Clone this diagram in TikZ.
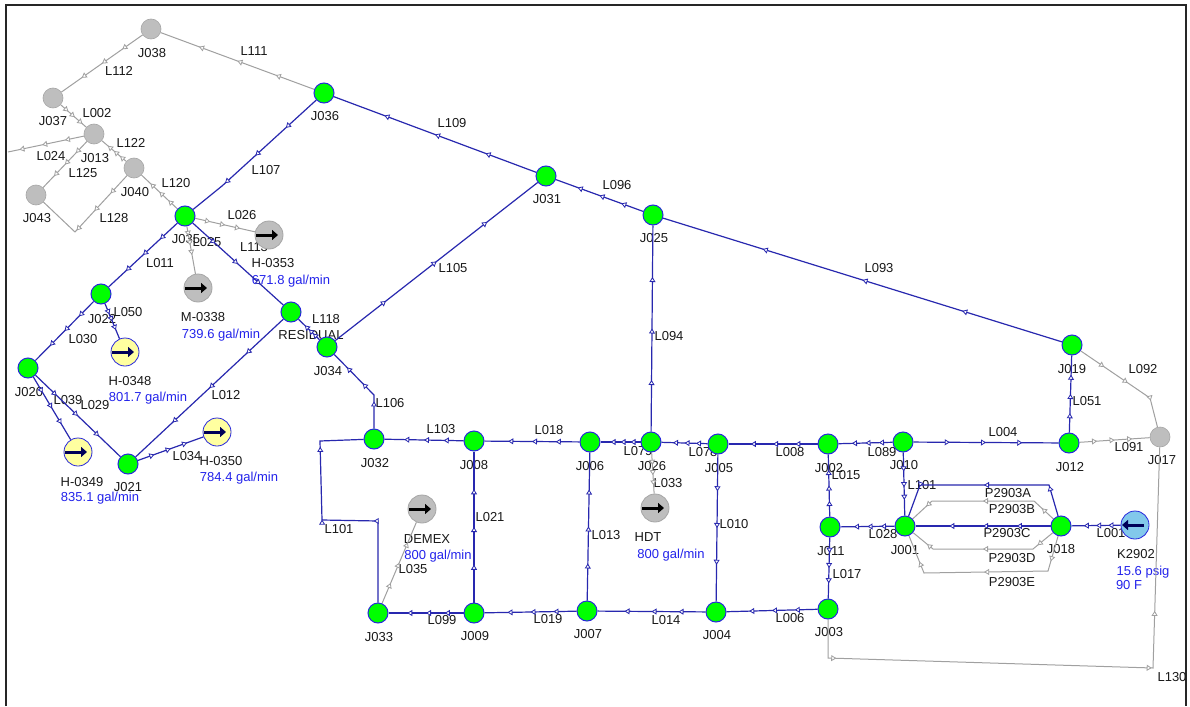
\documentclass[tikz,border=0pt]{standalone}
\usepackage{fontspec}
\setmainfont{Liberation Sans}
\usetikzlibrary{arrows.meta,backgrounds,decorations.markings}
\definecolor{pipeblue}{RGB}{40,40,175}
\definecolor{pipegray}{RGB}{160,160,160}
\definecolor{valblue}{RGB}{35,35,235}
\definecolor{rimblue}{RGB}{40,40,220}
\definecolor{pumpfill}{RGB}{190,190,190}
\definecolor{sinkfill}{RGB}{255,255,160}
\definecolor{srcfill}{RGB}{130,200,235}

\begin{document}
\begin{tikzpicture}[
    x=1pt, y=-1pt,
    lbl/.style={font=\fontsize{13}{13}\selectfont, inner sep=0pt, text height=9.3pt, text depth=0pt, text=black!90},
    val/.style={lbl, text=valblue},
    junc/.style={circle, draw=rimblue, fill=green, line width=1pt, minimum size=20pt, inner sep=0pt},
    idle/.style={circle, draw=gray!70, fill=pumpfill, line width=.6pt, minimum size=20pt, inner sep=0pt},
    flowr/.style={circle, minimum size=28pt, inner sep=0pt, line width=.8pt, path picture={
        \draw[line width=3pt, -{Triangle[length=6pt,width=10pt]}, #1]
          ([xshift=-13pt]path picture bounding box.center) -- ([xshift=9pt]path picture bounding box.center);}},
    sinkg/.style={flowr=black, draw=gray!70, fill=pumpfill},
    sinky/.style={flowr={blue!35!black}, draw=rimblue, fill=sinkfill},
    srcb/.style={circle, minimum size=28pt, inner sep=0pt, line width=.8pt, draw=rimblue, fill=srcfill, path picture={
        \draw[line width=3pt, -{Triangle[length=6pt,width=10pt]}, blue!35!black]
          ([xshift=9pt]path picture bounding box.center) -- ([xshift=-13pt]path picture bounding box.center);}},
    tri marks/.style n args={3}{postaction={decorate, decoration={markings,
        mark=at position #1 with {\arrow{Triangle[open,fill=white,length=5pt,width=6pt,line width=.8pt]}},
        mark=at position #2 with {\arrow{Triangle[open,fill=white,length=5pt,width=6pt,line width=.8pt]}},
        mark=at position #3 with {\arrow{Triangle[open,fill=white,length=5pt,width=6pt,line width=.8pt]}}}}},
    tm/.style={tri marks={.25}{.5}{.75}},
    bluepipe/.style={draw=pipeblue, line width=1.2pt},
    graypipe/.style={draw=pipegray, line width=1pt},
  ]
  \useasboundingbox (0,0) rectangle (1190,706);

  % junctions
  \node[idle] (J038) at (151,29) {};
  \node[idle] (J037) at (53,98) {};
  \node[idle] (J013) at (94,134) {};
  \node[idle] (J040) at (134,168) {};
  \node[idle] (J043) at (36,195) {};
  \node[idle] (J017) at (1160,437) {};
  \node[junc] (J036) at (324,93) {};
  \node[junc] (J035) at (185,216) {};
  \node[junc] (J031) at (546,176) {};
  \node[junc] (J025) at (653,215) {};
  \node[junc] (J022) at (101,294) {};
  \node[junc] (RESIDUAL) at (291,312) {};
  \node[junc] (J034) at (327,347) {};
  \node[junc] (J019) at (1072,345) {};
  \node[junc] (J020) at (28,368) {};
  \node[junc] (J021) at (128,464) {};
  \node[junc] (J032) at (374,439) {};
  \node[junc] (J008) at (474,441) {};
  \node[junc] (J006) at (590,442) {};
  \node[junc] (J026) at (651,442) {};
  \node[junc] (J005) at (718,444) {};
  \node[junc] (J002) at (828,444) {};
  \node[junc] (J010) at (903,442) {};
  \node[junc] (J012) at (1069,443) {};
  \node[junc] (J011) at (830,527) {};
  \node[junc] (J001) at (905,526) {};
  \node[junc] (J018) at (1061,526) {};
  \node[junc] (J033) at (378,613) {};
  \node[junc] (J009) at (474,613) {};
  \node[junc] (J007) at (587,611) {};
  \node[junc] (J004) at (716,612) {};
  \node[junc] (J003) at (828,609) {};

  % flow boundaries
  \node[sinkg] (H0353) at (269,235) {};
  \node[sinkg] (M0338) at (198,288) {};
  \node[sinkg] (DEMEX) at (422,509) {};
  \node[sinkg] (HDT) at (655,508) {};
  \node[sinky] (H0348) at (125,352) {};
  \node[sinky] (H0349) at (78,452) {};
  \node[sinky] (H0350) at (217,432) {};
  \node[srcb] (K2902) at (1135,525) {};

  % bends and the open end
  \coordinate (leftend) at (8,152);
  \coordinate (b128) at (75,232);
  \coordinate (b107) at (222,186);
  \coordinate (b106) at (374,395);
  \coordinate (b101a) at (378,521);
  \coordinate (b101b) at (322,520);
  \coordinate (b101c) at (320,441);
  \coordinate (b130a) at (828,658);
  \coordinate (b130b) at (1153,668);
  \coordinate (b092) at (1150,398);
  \coordinate (bAa) at (1049,485);
  \coordinate (bAb) at (920,485);
  \coordinate (bBa) at (1034,501);
  \coordinate (bBb) at (932,501);
  \coordinate (bDa) at (1033,549);
  \coordinate (bDb) at (933,549);
  \coordinate (bEa) at (1048,571);
  \coordinate (bEb) at (924,573);

  \begin{scope}[on background layer]
    \fill[white] (0,0) rectangle (1190,706);
    \draw[black!85, line width=2pt] (6,706) -- (6,5) -- (1186,5) -- (1186,706);

    % junction texts
    \node[lbl] (tJ038) at (152,53) {J038};
    \node[lbl] (tJ037) at (53,121) {J037};
    \node[lbl] (tJ013) at (95,158) {J013};
    \node[lbl] (tJ040) at (135,192) {J040};
    \node[lbl] (tJ043) at (37,218) {J043};
    \node[lbl] (tJ036) at (325,116) {J036};
    \node[lbl] (tJ035) at (186,239) {J035};
    \node[lbl] (tJ031) at (547,199) {J031};
    \node[lbl] (tJ025) at (654,238) {J025};
    \node[lbl] (tJ022) at (102,319) {J022};
    \node[lbl] (tRES) at (311,335) {RESIDUAL};
    \node[lbl] (tJ034) at (328,371) {J034};
    \node[lbl] (tJ019) at (1072,369) {J019};
    \node[lbl] (tJ020) at (29,392) {J020};
    \node[lbl] (tJ021) at (128,487) {J021};
    \node[lbl] (tJ032) at (375,463) {J032};
    \node[lbl] (tJ008) at (474,465) {J008};
    \node[lbl] (tJ006) at (590,466) {J006};
    \node[lbl] (tJ026) at (652,466) {J026};
    \node[lbl] (tJ005) at (719,468) {J005};
    \node[lbl] (tJ002) at (829,468) {J002};
    \node[lbl] (tJ010) at (904,465) {J010};
    \node[lbl] (tJ012) at (1070,467) {J012};
    \node[lbl] (tJ017) at (1162,460) {J017};
    \node[lbl] (tJ011) at (831,551) {J011};
    \node[lbl] (tJ001) at (905,550) {J001};
    \node[lbl] (tJ018) at (1061,549) {J018};
    \node[lbl] (tJ033) at (379,637) {J033};
    \node[lbl] (tJ009) at (475,636) {J009};
    \node[lbl] (tJ007) at (588,634) {J007};
    \node[lbl] (tJ004) at (717,635) {J004};
    \node[lbl] (tJ003) at (829,632) {J003};

    % boundary texts
    \node[lbl] (tH0353) at (273,263) {H-0353};
    \node[val] (vH0353) at (291,280) {671.8 gal/min};
    \node[lbl] (tM0338) at (203,317) {M-0338};
    \node[val] (vM0338) at (221,334) {739.6 gal/min};
    \node[lbl] (tH0348) at (130,381) {H-0348};
    \node[val] (vH0348) at (148,397) {801.7 gal/min};
    \node[lbl] (tH0349) at (82,482) {H-0349};
    \node[val] (vH0349) at (100,497) {835.1 gal/min};
    \node[lbl] (tH0350) at (221,461) {H-0350};
    \node[val] (vH0350) at (239,477) {784.4 gal/min};
    \node[lbl] (tDEMEX) at (427,539) {DEMEX};
    \node[val] (vDEMEX) at (438,555) {800 gal/min};
    \node[lbl] (tHDT) at (648,537) {HDT};
    \node[val] (vHDT) at (671,554) {800 gal/min};
    \node[lbl] (tK2902) at (1136,554) {K2902};
    \node[val] (vK2902a) at (1143,571) {15.6 psig};
    \node[val] (vK2902b) at (1129,585) {90 F};

    % pipe texts
    \node[lbl] (tL111) at (254,51) {L111};
    \node[lbl] (tL112) at (119,71) {L112};
    \node[lbl] (tL002) at (97,113) {L002};
    \node[lbl] (tL122) at (131,143) {L122};
    \node[lbl] (tL024) at (51,156) {L024};
    \node[lbl] (tL125) at (83,173) {L125};
    \node[lbl] (tL120) at (176,183) {L120};
    \node[lbl] (tL128) at (114,218) {L128};
    \node[lbl] (tL107) at (266,170) {L107};
    \node[lbl] (tL026) at (242,215) {L026};
    \node[lbl] (tL025) at (207,242) {L025};
    \node[lbl] (tL113) at (254,247) {L113};
    \node[lbl] (tL109) at (452,123) {L109};
    \node[lbl] (tL096) at (617,185) {L096};
    \node[lbl] (tL093) at (879,268) {L093};
    \node[lbl] (tL105) at (453,268) {L105};
    \node[lbl] (tL094) at (669,336) {L094};
    \node[lbl] (tL011) at (160,263) {L011};
    \node[lbl] (tL118) at (326,319) {L118};
    \node[lbl] (tL050) at (128,312) {L050};
    \node[lbl] (tL030) at (83,339) {L030};
    \node[lbl] (tL039) at (68,400) {L039};
    \node[lbl] (tL029) at (95,405) {L029};
    \node[lbl] (tL012) at (226,395) {L012};
    \node[lbl] (tL034) at (187,456) {L034};
    \node[lbl] (tL106) at (390,403) {L106};
    \node[lbl] (tL103) at (441,429) {L103};
    \node[lbl] (tL018) at (549,430) {L018};
    \node[lbl] (tL021) at (490,517) {L021};
    \node[lbl] (tL035) at (413,569) {L035};
    \node[lbl] (tL101) at (339,529) {L101};
    \node[lbl] (tL099) at (442,620) {L099};
    \node[lbl] (tL019) at (548,619) {L019};
    \node[lbl] (tL013) at (606,535) {L013};
    \node[lbl] (tL079) at (638,451) {L079};
    \node[lbl] (tL078) at (703,452) {L078};
    \node[lbl] (tL033) at (668,483) {L033};
    \node[lbl] (tL010) at (734,524) {L010};
    \node[lbl] (tL014) at (666,620) {L014};
    \node[lbl] (tL006) at (790,618) {L006};
    \node[lbl] (tL008) at (790,452) {L008};
    \node[lbl] (tL015) at (846,475) {L015};
    \node[lbl] (tL017) at (847,574) {L017};
    \node[lbl] (tL089) at (882,452) {L089};
    \node[lbl] (tL004) at (1003,432) {L004};
    \node[lbl] (tL051) at (1087,401) {L051};
    \node[lbl] (tL092) at (1143,369) {L092};
    \node[lbl] (tL091) at (1129,447) {L091};
    \node[lbl] (tL101b) at (922,485) {L101};
    \node[lbl] (tL028) at (883,534) {L028};
    \node[lbl] (tL001) at (1111,533) {L001};
    \node[lbl] (tL130) at (1172,677) {L130};
    \node[lbl] (tA) at (1008,493) {P2903A};
    \node[lbl] (tB) at (1012,509) {P2903B};
    \node[lbl] (tC) at (1007,533) {P2903C};
    \node[lbl] (tD) at (1012,558) {P2903D};
    \node[lbl] (tE) at (1012,582) {P2903E};

    % gray pipes
    \draw[graypipe,tm] (J036) -- (J038);
    \draw[graypipe,tm] (J038) -- (J037);
    \draw[graypipe,tri marks={.3}{.55}{.85}] (J037) -- (J013);
    \draw[graypipe,tri marks={.25}{.55}{.85}] (J013) -- (leftend);
    \draw[graypipe,tm] (J040) -- (J013);
    \draw[graypipe,tm] (J035) -- (J040);
    \draw[graypipe,tm] (J013) -- (J043);
    \draw[graypipe,tri marks={.2}{.4}{.62}] (J040) -- (b128) -- (J043);
    \draw[graypipe,tm] (J035) -- (H0353);
    \draw[graypipe,tri marks={.2}{.4}{.6}] (J035) -- (M0338);
    \draw[graypipe,tri marks={.3}{.55}{.8}] (J026) -- (HDT);
    \draw[graypipe,tm] (J033) -- (DEMEX);
    \draw[graypipe,tri marks={.25}{.5}{.76}] (J019) -- (b092) -- (J017);
    \draw[graypipe,tm] (J012) -- (J017);
    \draw[graypipe,tri marks={.08}{.62}{.72}] (J003) -- (b130a) -- (b130b) -- (J017);
    \draw[graypipe,tri marks={.1}{.5}{.88}] (J018) -- (bBa) -- (bBb) -- (J001);
    \draw[graypipe,tri marks={.13}{.5}{.88}] (J018) -- (bDa) -- (bDb) -- (J001);
    \draw[graypipe,tri marks={.13}{.5}{.86}] (J018) -- (bEa) -- (bEb) -- (J001);

    % blue pipes
    \draw[bluepipe,tm] (J031) -- (J036);
    \draw[bluepipe,tm] (J025) -- (J031);
    \draw[bluepipe,tm] (J019) -- (J025);
    \draw[bluepipe,tm] (J034) -- (J031);
    \draw[bluepipe,tm] (J036) -- (b107) -- (J035);
    \draw[bluepipe,tm] (J035) -- (J022);
    \draw[bluepipe,tm] (J022) -- (J020);
    \draw[bluepipe,tm] (J035) -- (RESIDUAL);
    \draw[bluepipe,tri marks={.3}{.5}{.7}] (J034) -- (RESIDUAL);
    \draw[bluepipe,tm] (RESIDUAL) -- (J021);
    \draw[bluepipe,tm] (J020) -- (J021);
    \draw[bluepipe,tm] (J020) -- (H0349);
    \draw[bluepipe,tm] (J021) -- (H0350);
    \draw[bluepipe,tri marks={.3}{.5}{.75}] (J022) -- (H0348);
    \draw[bluepipe,tri marks={.3}{.55}{.8}] (J032) -- (b106) -- (J034);
    \draw[bluepipe,tm] (J008) -- (J032);
    \draw[bluepipe,tm] (J006) -- (J008);
    \draw[bluepipe,tm] (J026) -- (J006);
    \draw[bluepipe,tm] (J005) -- (J026);
    \draw[bluepipe,tm] (J002) -- (J005);
    \draw[bluepipe,tm] (J010) -- (J002);
    \draw[bluepipe,tm] (J010) -- (J012);
    \draw[bluepipe,tm] (J012) -- (J019);
    \draw[bluepipe,tm] (J026) -- (J025);
    \draw[bluepipe,tm] (J009) -- (J008);
    \draw[bluepipe,tm] (J007) -- (J006);
    \draw[bluepipe,tm] (J005) -- (J004);
    \draw[bluepipe,tm] (J011) -- (J002);
    \draw[bluepipe,tm] (J011) -- (J003);
    \draw[bluepipe,tm] (J009) -- (J033);
    \draw[bluepipe,tm] (J007) -- (J009);
    \draw[bluepipe,tm] (J004) -- (J007);
    \draw[bluepipe,tm] (J003) -- (J004);
    \draw[bluepipe,tm] (J001) -- (J011);
    \draw[bluepipe,tm] (J018) -- (J001);
    \draw[bluepipe,tm] (K2902) -- (J018);
    \draw[bluepipe,tri marks={.3}{.55}{.75}] (J010) -- (J001);
    \draw[bluepipe,tri marks={.33}{.53}{.81}] (J033) -- (b101a) -- (b101b) -- (b101c) -- (J032);
    \draw[bluepipe,tri marks={.16}{.5}{.84}] (J018) -- (bAa) -- (bAb) -- (J001);
  \end{scope}
\end{tikzpicture}
\end{document}
